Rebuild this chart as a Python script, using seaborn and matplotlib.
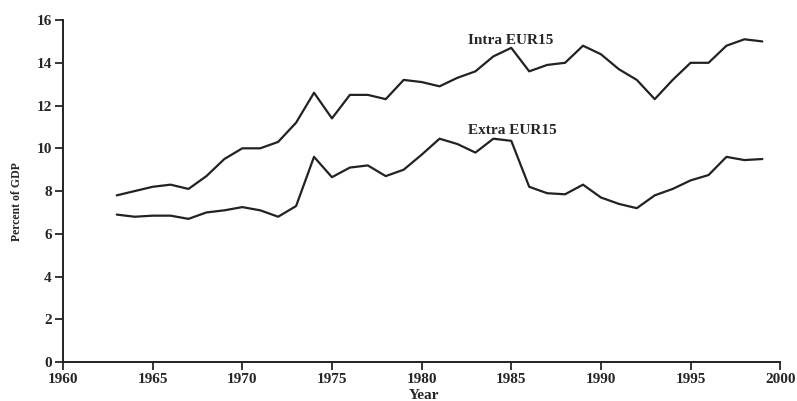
import numpy as np
import pandas as pd
import seaborn as sns
from matplotlib import pyplot as plt

years = list(range(1963, 2000))
intra_eur15 = [7.8, 8.0, 8.2, 8.3, 8.1, 8.7, 9.5, 10.0, 10.0, 10.3, 11.2, 12.6,
               11.4, 12.5, 12.5, 12.3, 13.2, 13.1, 12.9, 13.3, 13.6, 14.3, 14.7,
               13.6, 13.9, 14.0, 14.8, 14.4, 13.7, 13.2, 12.3, 13.2, 14.0, 14.0,
               14.8, 15.1, 15.0]
extra_eur15 = [6.9, 6.8, 6.85, 6.85, 6.7, 7.0, 7.1, 7.25, 7.1, 6.8, 7.3, 9.6,
               8.65, 9.1, 9.2, 8.7, 9.0, 9.7, 10.45, 10.2, 9.8, 10.45, 10.35,
               8.2, 7.9, 7.85, 8.3, 7.7, 7.4, 7.2, 7.8, 8.1, 8.5, 8.75,
               9.6, 9.45, 9.5]
x_ticks = [1960, 1965, 1970, 1975, 1980, 1985, 1990, 1995, 2000]
y_ticks = [0, 2, 4, 6, 8, 10, 12, 14, 16]

df = pd.DataFrame({
    'Year': years * 2,
    'Percent of GDP': intra_eur15 + extra_eur15,
    'Series': ['Intra EUR15'] * len(years) + ['Extra EUR15'] * len(years),
})

sns.set_style('ticks')
plt.rcParams['font.family'] = ['Liberation Serif', 'DejaVu Serif']
plt.rcParams['font.weight'] = 'bold'

fig = plt.figure(figsize=(7.97, 4.01), dpi=100)
ax = fig.add_axes([0.079, 0.097, 0.900, 0.853])

sns.lineplot(data=df, x='Year', y='Percent of GDP', hue='Series',
             palette=['#222222', '#222222'], linewidth=1.6, legend=False, ax=ax)

# series labels placed next to the lines
ax.text(1982.6, 15.03, 'Intra EUR15', fontsize=11, fontweight='bold', va='center')
ax.text(1982.6, 10.85, 'Extra EUR15', fontsize=11, fontweight='bold', va='center')

ax.set_xlim(1960, 2000)
ax.set_ylim(0, 16)
ax.set_xticks(x_ticks)
ax.set_yticks(y_ticks)
ax.tick_params(axis='both', direction='out', length=6, width=1.3, labelsize=11,
               pad=2)
for lab in ax.get_xticklabels() + ax.get_yticklabels():
    lab.set_fontweight('bold')

ax.set_xlabel('Year', fontsize=11, fontweight='bold')
ax.xaxis.set_label_coords(0.503, -0.08)
ax.xaxis.label.set_va('top')
ax.set_ylabel('Percent of GDP', fontsize=8.5, fontweight='bold')
ax.yaxis.set_label_coords(-0.056, 0.47)

for side in ['top', 'right']:
    ax.spines[side].set_visible(False)
for side in ['left', 'bottom']:
    ax.spines[side].set_linewidth(1.4)
    ax.spines[side].set_color('#222222')

fig.savefig('out.png', dpi=100)
